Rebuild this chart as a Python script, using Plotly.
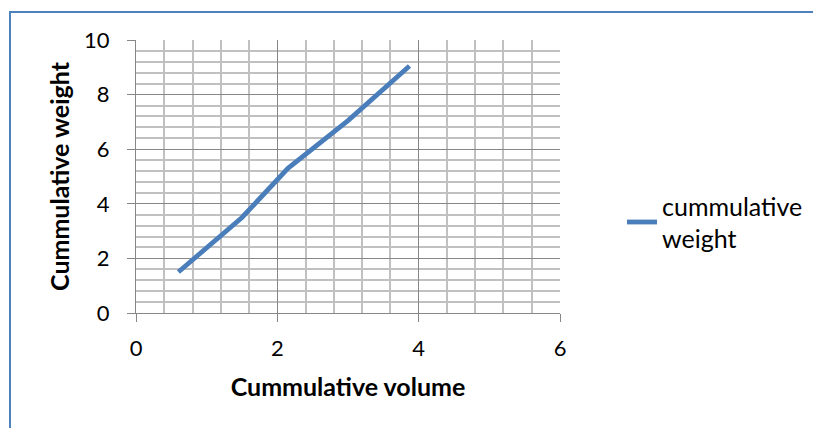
import plotly.graph_objects as go

volume = [0.6, 1.5, 2.15, 3.0, 3.87]
weight = [1.5, 3.5, 5.3, 7.05, 9.05]
series_name = "cummulative<br>weight"
x_title = "Cummulative volume"
y_title = "Cummulative weight"

FONT = "Lato, 'Open Sans', sans-serif"
# the page adds an 8px body margin, so compensate in the margins
OFF = 8
L, T = 136 - OFF, 40 - OFF
W, H = 821, 428
pw, ph = 424, 273
R = W - L - pw
B = H - T - ph

fig = go.Figure()
fig.add_trace(go.Scatter(
    x=volume, y=weight, mode="lines", name=series_name,
    line=dict(color="#4a7ebb", width=4.8),
))

axis_common = dict(
    showgrid=True, gridcolor="#878787", gridwidth=1.3,
    showline=True, linecolor="#878787", linewidth=1.3,
    ticks="outside", ticklen=8, tickcolor="#878787", tickwidth=1.3,
    zeroline=False, automargin=False,
    tickfont=dict(family=FONT, size=22, color="#000"),
)

fig.update_xaxes(
    range=[0, 6], dtick=2, tick0=0, **axis_common,
    minor=dict(dtick=0.4, showgrid=True, gridcolor="#c0c0c0", gridwidth=1.6, ticks=""),
    ticklabelstandoff=7,
    title=dict(text="<b>" + x_title + "</b>", font=dict(family=FONT, size=25, color="#000"), standoff=18),
)
fig.update_yaxes(
    range=[0, 10], dtick=2, tick0=0, **axis_common,
    minor=dict(dtick=0.4, showgrid=True, gridcolor="#c0c0c0", gridwidth=1.6, ticks=""),
    ticklabelstandoff=13,
    title=dict(text="<b>" + y_title + "</b>", font=dict(family=FONT, size=25, color="#000"), standoff=7),
)

# outer chart border (extends past the right and bottom edge of the picture)
fig.add_shape(type="rect", xref="paper", yref="paper",
              x0=(10 - 136) / pw, x1=(W + 30 - 136) / pw,
              y0=-(H + 30 - 313) / ph, y1=(313 - 12) / ph,
              line=dict(color="#4f81bd", width=2), fillcolor="rgba(0,0,0,0)", layer="above")

fig.update_layout(
    width=W, height=H,
    margin=dict(l=L, r=R, t=T, b=B, pad=0),
    paper_bgcolor="white", plot_bgcolor="white",
    showlegend=True,
    legend=dict(x=(622 - 136) / pw, y=(313 - 183) / ph, xanchor="left", yanchor="top",
                font=dict(family=FONT, size=25, color="#000"), bgcolor="rgba(0,0,0,0)",
                itemwidth=30),
)

fig.write_html("out.html")
